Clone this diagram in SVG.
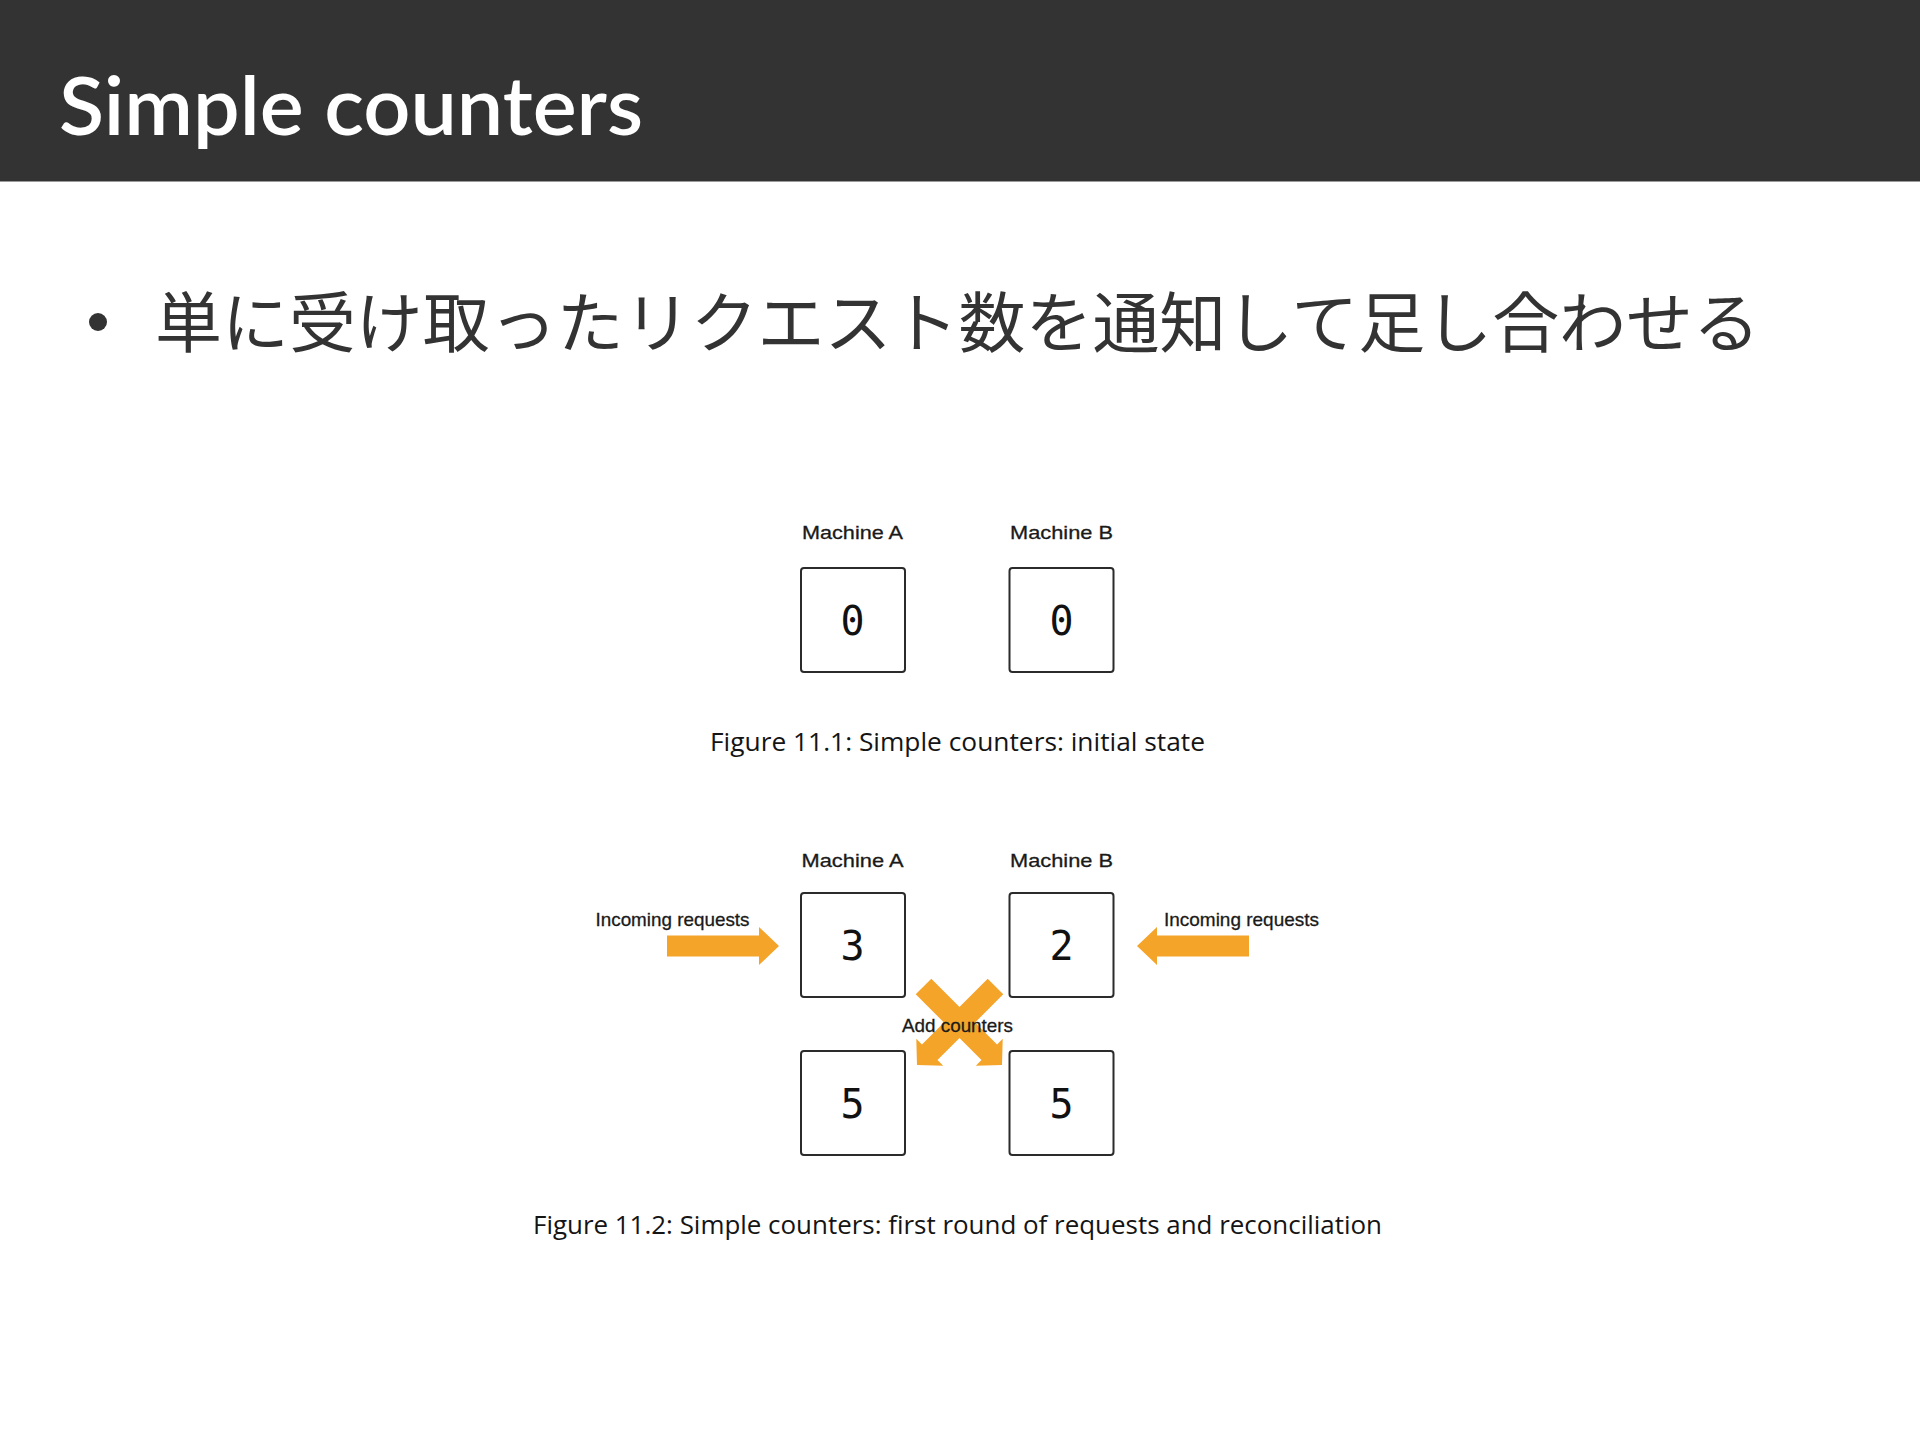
<svg xmlns="http://www.w3.org/2000/svg" width="1920" height="1440" viewBox="0 0 1920 1440">
<style>
.box{fill:#fff;stroke:#2b2b2b;stroke-width:2}
.digit{font-family:"DejaVu Sans Mono",monospace;font-size:40px;fill:#111;text-anchor:middle}
.lbl{font-family:"Liberation Sans",Arial,sans-serif;font-size:19px;fill:#1a1a1a;text-anchor:middle;stroke:#1a1a1a;stroke-width:0.3}
.cap{font-family:"Open Sans","Liberation Sans",sans-serif;font-size:25px;font-weight:500;fill:#141414}
.orange{fill:#F5A42A}
</style>
<rect x="0" y="0" width="1920" height="1440" fill="#fff"/>
<rect x="0" y="0" width="1920" height="181" fill="#333333"/>
<line x1="0" y1="181.5" x2="1920" y2="181.5" stroke="#9a9a9a" stroke-width="1"/>
<text x="59" y="135" font-family="Lato,'Open Sans',sans-serif" font-size="80" font-weight="600" fill="#fff" textLength="584" lengthAdjust="spacingAndGlyphs">Simple counters</text>
<circle cx="98" cy="322" r="9" fill="#333"/>
<text x="155" y="347" font-family="'Noto Sans CJK JP','Noto Sans CJK SC',sans-serif" font-size="66" fill="#333" textLength="1605" lengthAdjust="spacingAndGlyphs">単に受け取ったリクエスト数を通知して足し合わせる</text>

<g id="fig1">
  <g id="fig1-machineA">
    <text class="lbl" x="852.5" y="539" textLength="101" lengthAdjust="spacingAndGlyphs">Machine A</text>
    <rect class="box" x="801" y="568" width="104" height="104" rx="3"/>
    <text class="digit" x="852.5" y="635">0</text>
  </g>
  <g id="fig1-machineB">
    <text class="lbl" x="1061.5" y="539" textLength="103" lengthAdjust="spacingAndGlyphs">Machine B</text>
    <rect class="box" x="1009.5" y="568" width="104" height="104" rx="3"/>
    <text class="digit" x="1061.5" y="635">0</text>
  </g>
  <text id="caption1" class="cap" x="710" y="751" textLength="495" lengthAdjust="spacingAndGlyphs">Figure 11.1: Simple counters: initial state</text>
</g>

<g id="fig2">
  <g id="fig2-machineA">
    <text class="lbl" x="852.5" y="867" textLength="102" lengthAdjust="spacingAndGlyphs">Machine A</text>
    <rect class="box" x="801" y="893" width="104" height="104" rx="3"/>
    <text class="digit" x="852.5" y="960">3</text>
  </g>
  <g id="fig2-machineB">
    <text class="lbl" x="1061.5" y="867" textLength="103" lengthAdjust="spacingAndGlyphs">Machine B</text>
    <rect class="box" x="1009.5" y="893" width="104" height="104" rx="3"/>
    <text class="digit" x="1061.5" y="960">2</text>
  </g>
  <g id="fig2-machineA-after">
    <rect class="box" x="801" y="1051" width="104" height="104" rx="3"/>
    <text class="digit" x="852.5" y="1118">5</text>
  </g>
  <g id="fig2-machineB-after">
    <rect class="box" x="1009.5" y="1051" width="104" height="104" rx="3"/>
    <text class="digit" x="1061.5" y="1118">5</text>
  </g>
  <g id="connectors">
    <polygon class="orange" points="667,935.5 759,935.5 759,927 779,946 759,965 759,956.5 667,956.5"/>
    <polygon class="orange" points="1249,935.5 1157,935.5 1157,927 1137,946 1157,965 1157,956.5 1249,956.5"/>
    <g transform="translate(1002,1065) rotate(45)">
      <polygon class="orange" points="-111,-11 -18,-11 -18,-19 0,0 -18,19 -18,11 -111,11"/>
    </g>
    <g transform="translate(917,1065) rotate(135)">
      <polygon class="orange" points="-111,-11 -18,-11 -18,-19 0,0 -18,19 -18,11 -111,11"/>
    </g>
  </g>
  <text class="lbl" x="672.5" y="926" font-size="18" textLength="154" lengthAdjust="spacingAndGlyphs">Incoming requests</text>
  <text class="lbl" x="1241.5" y="926" font-size="18" textLength="155" lengthAdjust="spacingAndGlyphs">Incoming requests</text>
  <text class="lbl" x="957.5" y="1032" font-size="18" textLength="111" lengthAdjust="spacingAndGlyphs">Add counters</text>
  <text id="caption2" class="cap" x="533" y="1234" textLength="849" lengthAdjust="spacingAndGlyphs">Figure 11.2: Simple counters: first round of requests and reconciliation</text>
</g>
</svg>
